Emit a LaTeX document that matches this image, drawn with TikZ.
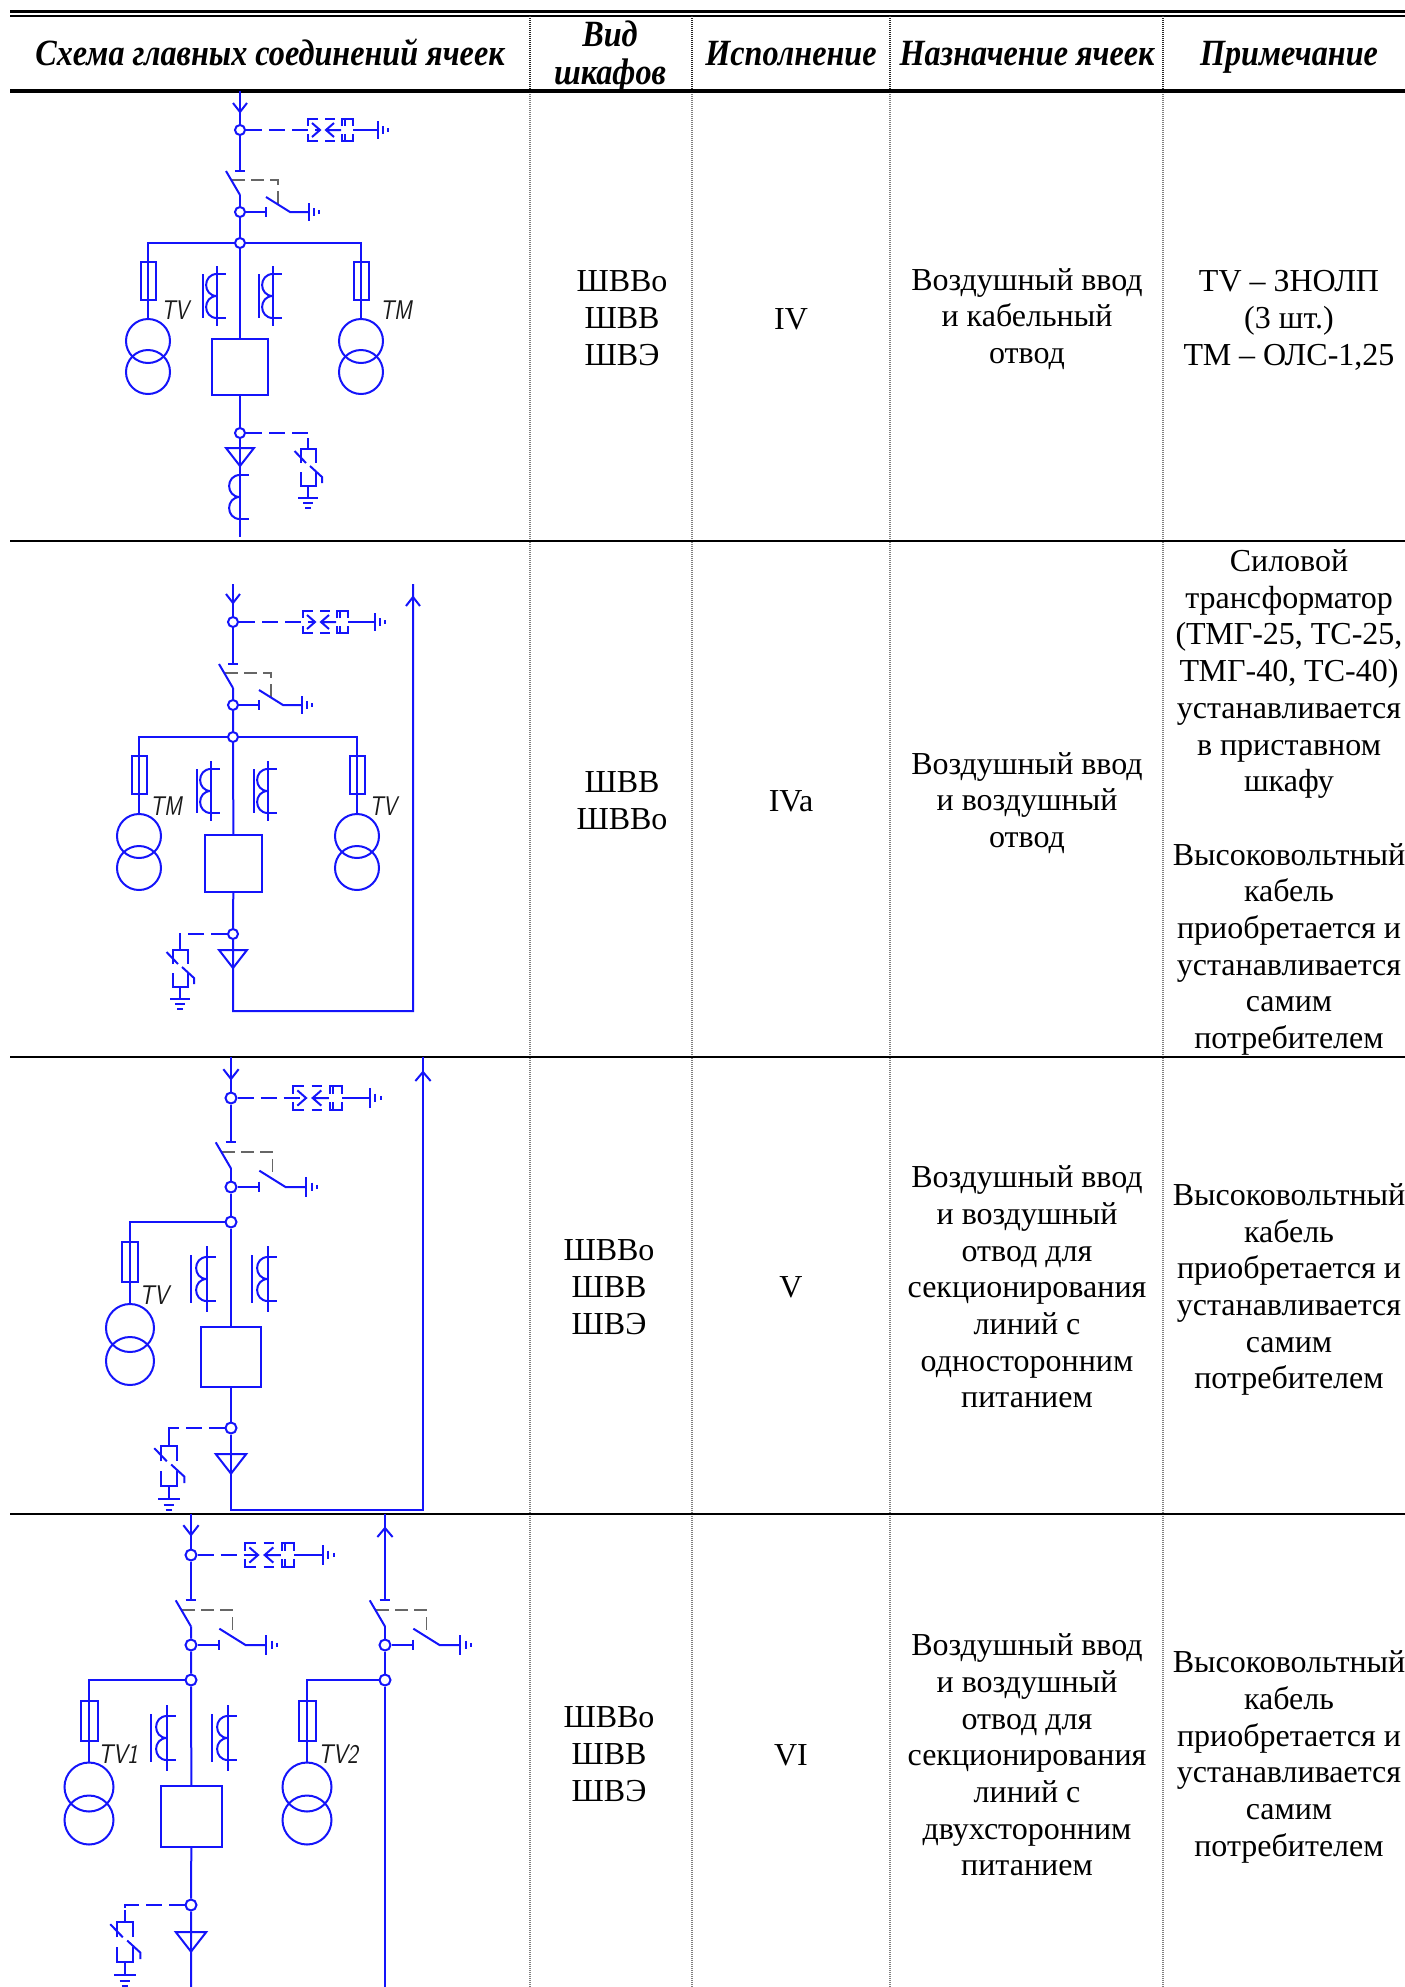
\documentclass[tikz,border=0pt]{standalone}
\usepackage{fontspec}
\setmainfont{Liberation Serif}
\newfontfamily\headfont[FakeStretch=0.87]{Liberation Serif}
\definecolor{wirecol}{RGB}{20,20,250}
\tikzset{
  wire/.style={draw=wirecol,line width=2pt},
  dashwire/.style={wire,dash pattern=on 16pt off 7pt},
  gang/.style={draw=black!60,line width=1.6pt,dash pattern=on 13pt off 6pt},
  junction/.style={circle,draw=wirecol,line width=2pt,fill=white,minimum size=10pt,inner sep=0pt},
  fuse/.style={rectangle,draw=wirecol,line width=2pt,minimum width=15pt,minimum height=38pt,inner sep=0pt},
  winding/.style={circle,draw=wirecol,line width=2pt,minimum size=44pt,inner sep=0pt},
  breaker/.style={rectangle,draw=wirecol,line width=2pt,inner sep=0pt},
  rowline/.style={line width=2.4pt},
  heading/.style={font=\fontsize{37}{38}\headfont\bfseries\itshape,align=center,inner sep=0pt},
  cell/.style={font=\fontsize{32}{36.7}\selectfont,align=center,inner sep=0pt},
  colrule/.style={draw=black!50,line width=1.6pt,dash pattern=on 1pt off 1pt},
  headrule/.style={draw=black!85,line width=1.6pt,dash pattern=on 1pt off 1pt},
  tvlabel/.style={font=\fontsize{27}{27}\selectfont\sffamily\itshape,text=black!90,inner sep=0pt},
  tipmark/.pic={\draw[wire] (-7,-9) -- (0,0) -- (7,-9);},
  earth/.pic={
    \coordinate (-root) at (0,0);
    \draw[wire] (0,-9) -- (0,9) (5,-4) -- (5,4) (10,-2) -- (10,2);
  },
  spark/.pic={
    \coordinate (-tip) at (12,0);
    \coordinate (-out) at (45,0);
    \draw[wire] (10,-11) -- (0,-11) -- (0,-4) (0,4) -- (0,11) -- (10,11);
    \draw[wire] (4,-7) -- (12,0) -- (4,7);
    \draw[wire] (26,-7) -- (18,0) -- (26,7) (18,0) -- (33,0);
    \draw[wire] (17,-11) -- (27,-11) (17,11) -- (27,11);
    \draw[wire] (34,-4) -- (34,-11) -- (45,-11) -- (45,-4) (37,-11) -- (37,-4);
    \draw[wire] (34,4) -- (34,11) -- (45,11) -- (45,4) (37,11) -- (37,4);
  },
  disconn/.pic={
    \coordinate (-top) at (0,-41);
    \coordinate (-pivot) at (0,-17);
    \coordinate (-stop) at (26,0);
    \draw[gang] (-8,-32) -- (38,-32) -- (38,-8);
    \draw[wire] (-5,-41) -- (5,-41);
    \draw[wire] (-14,-41) -- (0,-17);
    \draw[wire] (26,-5) -- (26,5);
    \draw[wire] (26,-15) -- (50,0) -- (69,0);
    \draw[wire] (69,-9) -- (69,9) (74,-4) -- (74,4) (79,-2) -- (79,2);
  },
  coilpair/.pic={
    \draw[wire] (0,-22) .. controls (-14.5,-22) and (-14.5,0) .. (0,0)
      .. controls (-14.5,0) and (-14.5,22) .. (0,22);
    \draw[wire] (0,-22) -- (8.5,-22) (0,22) -- (8.5,22);
  },
  ctcoil/.pic={
    \pic {coilpair};
    \draw[wire] (0,-30) -- (0,30) (-14.5,-22) -- (-14.5,22);
  },
  cablehead/.pic={\draw[wire] (-14,0) -- (14,0) -- (0,18) -- cycle;},
  arrester/.pic={
    \coordinate (-top) at (0,0);
    \draw[wire] (0,0) -- (0,-11);
    \draw[wire] (-7.5,14) -- (-7.5,0) -- (7.5,0) -- (7.5,14);
    \draw[wire] (-7.5,23) -- (-7.5,37) -- (7.5,37) -- (7.5,23);
    \draw[wire] (-13.5,2) -- (-2,14) (2,17) -- (14,28) -- (14,34);
    \draw[wire] (0,37) -- (0,49) (-10,49) -- (10,49) (-5,54) -- (5,54) (-3,59) -- (3,59);
  }
}
\begin{document}
\begin{tikzpicture}[x=1pt,y=-1pt]
  \useasboundingbox (0,0) rectangle (1405,1987);

  \draw[line width=2.6pt] (10,11.5) -- (1405,11.5);
  \draw[line width=2pt] (10,15.5) -- (1405,15.5);
  \draw[headrule] (530,16) -- (530,90);
  \draw[headrule] (692,16) -- (692,90);
  \draw[headrule] (890,16) -- (890,90);
  \draw[headrule] (1163,16) -- (1163,90);
  \draw[colrule] (530,90) -- (530,1987);
  \draw[colrule] (692,90) -- (692,1987);
  \draw[colrule] (890,90) -- (890,1987);
  \draw[colrule] (1163,90) -- (1163,1987);
  \draw[line width=4pt] (10,90.5) -- (1405,90.5);
  \draw[rowline] (10,541) -- (1405,541);
  \draw[rowline] (10,1057) -- (1405,1057);
  \draw[rowline] (10,1514) -- (1405,1514);

  \node (hscheme) at (270,65) [heading,anchor=base] {Схема главных соединений ячеек};
  \node (hcase) at (610,57) [heading] {Вид\\шкафов};
  \node (hmake) at (791,65) [heading,anchor=base] {Исполнение};
  \node (hduty) at (1027,65) [heading,anchor=base] {Назначение ячеек};
  \node (hnote) at (1289,65) [heading,anchor=base] {Примечание};

  \node (casea) at (622,318) [cell] {ШВВо\\ШВВ\\ШВЭ};
  \node (makea) at (791,319) [cell] {IV};
  \node (dutya) at (1027,319) [cell] {Воздушный ввод\\и кабельный\\отвод};
  \node (notea) at (1289,320.5) [cell] {TV – ЗНОЛП\\(3 шт.)\\ТМ – ОЛС-1,25};

  \node (caseb) at (622,801) [cell] {ШВВ\\ШВВо};
  \node (makeb) at (791,801) [cell] {IVa};
  \node (dutyb) at (1027,803) [cell] {Воздушный ввод\\и воздушный\\отвод};
  \node (noteb) at (1289,802.5) [cell] {Силовой\\трансформатор\\(ТМГ-25, ТС-25,\\ТМГ-40, ТС-40)\\устанавливается\\в приставном\\шкафу\\[36.7pt]Высоковольтный\\кабель\\приобретается и\\устанавливается\\самим\\потребителем};

  \node (casec) at (609,1287) [cell] {ШВВо\\ШВВ\\ШВЭ};
  \node (makec) at (791,1287) [cell] {V};
  \node (dutyc) at (1027,1287) [cell] {Воздушный ввод\\и воздушный\\отвод для\\секционирования\\линий с\\односторонним\\питанием};
  \node (notec) at (1289,1289.5) [cell] {Высоковольтный\\кабель\\приобретается и\\устанавливается\\самим\\потребителем};

  \node (cased) at (609,1754) [cell] {ШВВо\\ШВВ\\ШВЭ};
  \node (maked) at (791,1755) [cell] {VI};
  \node (dutyd) at (1027,1755) [cell] {Воздушный ввод\\и воздушный\\отвод для\\секционирования\\линий с\\двухсторонним\\питанием};
  \node (noted) at (1289,1757) [cell] {Высоковольтный\\кабель\\приобретается и\\устанавливается\\самим\\потребителем};

  \coordinate (topa) at (240,91);
  \coordinate (enda) at (240,537);
  \node (juna) at (240,130) [junction] {};
  \node (juba) at (240,212) [junction] {};
  \node (busa) at (240,243) [junction] {};
  \node (boxa) at (240,367) [breaker,minimum size=56pt] {};
  \node (lowa) at (240,433) [junction] {};
  \node (fusaa) at (148,280.5) [fuse] {};
  \node (fusab) at (361,280.5) [fuse] {};
  \node (tvaa) at (148,341) [winding] {};
  \node (tvab) at (148,372) [winding] {};
  \node (tmaa) at (361,341) [winding] {};
  \node (tmab) at (361,372) [winding] {};
  \node (marktva) at (175,310) [tvlabel] {\scalebox{.8}[1]{TV}};
  \node (marktma) at (396,310) [tvlabel] {\scalebox{.8}[1]{TM}};
  \pic at (240,112) {tipmark};
  \pic (spa) at (308,130) {spark};
  \pic (eta) at (378,130) {earth};
  \pic (dsa) at (juba) {disconn};
  \pic at (217,296) {ctcoil};
  \pic at (273,296) {ctcoil};
  \pic at (240,448) {cablehead};
  \pic at (240,497) {coilpair};
  \pic (ara) at (308,449) {arrester};
  \draw[wire] (topa) -- (juna) -- (dsa-top);
  \draw[wire] (dsa-pivot) -- (juba) -- (busa) -- (boxa) -- (lowa) -- (enda);
  \draw[wire] (juba) -- (dsa-stop);
  \draw[dashwire] (juna) -- (spa-tip);
  \draw[wire] (spa-out) -- (eta-root);
  \draw[wire] (busa) -| (tvaa);
  \draw[wire] (busa) -| (tmaa);
  \draw[dashwire] (lowa) -| (ara-top);

  \coordinate (topb) at (233,584);
  \coordinate (bendb) at (233,1011);
  \coordinate (retb) at (413,1011);
  \coordinate (upb) at (413,584);
  \node (junb) at (233,622) [junction] {};
  \node (jubb) at (233,705) [junction] {};
  \node (busb) at (233,737) [junction] {};
  \node (boxb) at (233.5,863.5) [breaker,minimum size=57pt] {};
  \node (lowb) at (233,934) [junction] {};
  \node (fusba) at (139,775) [fuse] {};
  \node (fusbb) at (357,775) [fuse] {};
  \node (tmba) at (139,836) [winding] {};
  \node (tmbb) at (139,868) [winding] {};
  \node (tvba) at (357,836) [winding] {};
  \node (tvbb) at (357,868) [winding] {};
  \node (marktmb) at (166,806) [tvlabel] {\scalebox{.8}[1]{TM}};
  \node (marktvb) at (383,806) [tvlabel] {\scalebox{.8}[1]{TV}};
  \pic at (233,603) {tipmark};
  \pic[yscale=-1] at (413,597) {tipmark};
  \pic (spb) at (303,622) {spark};
  \pic (etb) at (375,622) {earth};
  \pic (dsb) at (jubb) {disconn};
  \pic at (211,791) {ctcoil};
  \pic at (268,791) {ctcoil};
  \pic at (233,950) {cablehead};
  \pic (arb) at (180,950) {arrester};
  \draw[wire] (topb) -- (junb) -- (dsb-top);
  \draw[wire] (dsb-pivot) -- (jubb) -- (busb) -- (boxb) -- (lowb) -- (bendb) -- (retb) -- (upb);
  \draw[wire] (jubb) -- (dsb-stop);
  \draw[dashwire] (junb) -- (spb-tip);
  \draw[wire] (spb-out) -- (etb-root);
  \draw[wire] (busb) -| (tmba);
  \draw[wire] (busb) -| (tvba);
  \draw[dashwire] (lowb) -| (arb-top);

  \coordinate (topc) at (231,1057);
  \coordinate (bendc) at (231,1510);
  \coordinate (retc) at (423,1510);
  \coordinate (upc) at (423,1057);
  \node (junc) at (231,1098) [junction,minimum size=11pt] {};
  \node (jubc) at (231,1187) [junction,minimum size=11pt] {};
  \node (busc) at (231,1222) [junction,minimum size=11pt] {};
  \node (boxc) at (231,1357) [breaker,minimum size=60pt] {};
  \node (lowc) at (231,1428) [junction,minimum size=11pt] {};
  \node (fusca) at (130,1262) [fuse,minimum width=16pt,minimum height=40pt] {};
  \node (tvca) at (130,1328) [winding,minimum size=48pt] {};
  \node (tvcb) at (130,1361) [winding,minimum size=48pt] {};
  \node (marktvc) at (154,1295) [tvlabel] {\scalebox{.85}[1]{TV}};
  \pic[scale=1.09] at (231,1079) {tipmark};
  \pic[yscale=-1,xscale=1.09] at (423,1072) {tipmark};
  \pic[scale=1.09] (spc) at (293,1098) {spark};
  \pic[scale=1.09] (etc) at (370,1098) {earth};
  \pic[scale=1.09] (dsc) at (jubc) {disconn};
  \pic[scale=1.09] at (207,1279) {ctcoil};
  \pic[scale=1.09] at (268,1279) {ctcoil};
  \pic[scale=1.09] at (231,1454) {cablehead};
  \pic[scale=1.09] (arrc) at (169,1446) {arrester};
  \draw[wire] (topc) -- (junc) -- (dsc-top);
  \draw[wire] (dsc-pivot) -- (jubc) -- (busc) -- (boxc) -- (lowc) -- (bendc) -- (retc) -- (upc);
  \draw[wire] (jubc) -- (dsc-stop);
  \draw[dashwire] (junc) -- (spc-tip);
  \draw[wire] (spc-out) -- (etc-root);
  \draw[wire] (busc) -| (tvca);
  \draw[dashwire] (lowc) -| (arrc-top);

  \coordinate (topd) at (191,1514);
  \coordinate (endd) at (191,1987);
  \coordinate (tope) at (385,1514);
  \coordinate (ende) at (385,1987);
  \node (jund) at (191,1555) [junction,minimum size=11pt] {};
  \node (jubd) at (191,1645) [junction,minimum size=11pt] {};
  \node (busd) at (191,1680) [junction,minimum size=11pt] {};
  \node (boxd) at (191.5,1816.5) [breaker,minimum size=61pt] {};
  \node (lowd) at (191,1905) [junction,minimum size=11pt] {};
  \node (jube) at (385,1645) [junction,minimum size=11pt] {};
  \node (buse) at (385,1680) [junction,minimum size=11pt] {};
  \node (fusda) at (89,1721) [fuse,minimum width=17pt,minimum height=40pt] {};
  \node (fusdb) at (307,1721) [fuse,minimum width=17pt,minimum height=40pt] {};
  \node (tvda) at (89,1787) [winding,minimum size=49pt] {};
  \node (tvdb) at (89,1820) [winding,minimum size=49pt] {};
  \node (tvea) at (307,1787) [winding,minimum size=49pt] {};
  \node (tveb) at (307,1820) [winding,minimum size=49pt] {};
  \node (marktvd) at (118,1754) [tvlabel] {\scalebox{.85}[1]{TV1}};
  \node (marktve) at (338,1754) [tvlabel] {\scalebox{.85}[1]{TV2}};
  \pic[scale=1.09] at (191,1535) {tipmark};
  \pic[yscale=-1,xscale=1.09] at (385,1528) {tipmark};
  \pic[scale=1.09] (spd) at (245,1555) {spark};
  \pic[scale=1.09] (etd) at (323,1555) {earth};
  \pic[scale=1.09] (dsd) at (jubd) {disconn};
  \pic[scale=1.09] (dse) at (jube) {disconn};
  \pic[scale=1.09] at (167,1738) {ctcoil};
  \pic[scale=1.09] at (228,1738) {ctcoil};
  \pic[scale=1.09] at (191,1932) {cablehead};
  \pic[scale=1.09] (ard) at (125,1922) {arrester};
  \draw[wire] (topd) -- (jund) -- (dsd-top);
  \draw[wire] (dsd-pivot) -- (jubd) -- (busd) -- (boxd) -- (lowd) -- (endd);
  \draw[wire] (jubd) -- (dsd-stop);
  \draw[dashwire] (jund) -- (spd-tip);
  \draw[wire] (spd-out) -- (etd-root);
  \draw[wire] (busd) -| (tvda);
  \draw[dashwire] (lowd) -| (ard-top);
  \draw[wire] (tope) -- (dse-top);
  \draw[wire] (dse-pivot) -- (jube) -- (buse) -- (ende);
  \draw[wire] (jube) -- (dse-stop);
  \draw[wire] (buse) -| (tvea);
\end{tikzpicture}
\end{document}
